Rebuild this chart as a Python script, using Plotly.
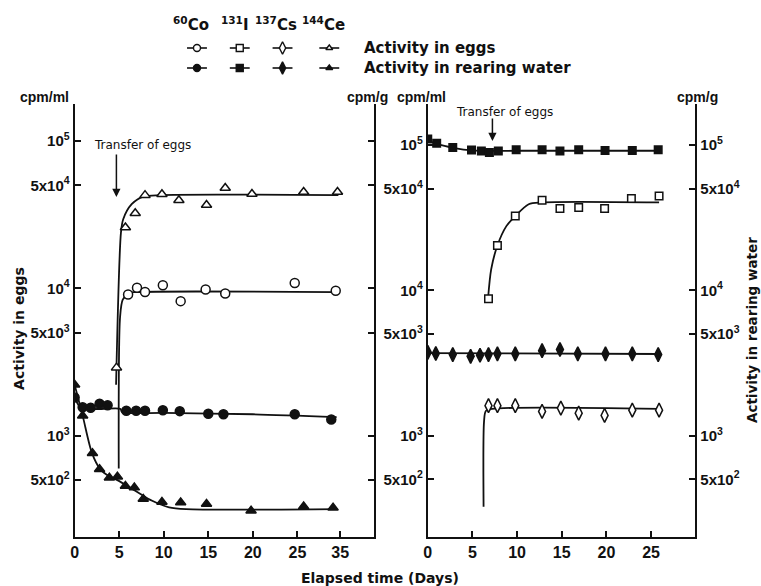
import plotly.graph_objects as go

W, H = 761, 586

# ---------------- data (left panel: 60Co and 144Ce) ----------------
co_egg_d = [6.0, 7.0, 7.9, 9.9, 11.9, 14.7, 16.9, 24.7, 29.3]
co_egg_v = [9100, 10100, 9450, 10500, 8200, 9850, 9250, 10900, 9650]
ce_egg_d = [4.7, 5.7, 6.8, 7.9, 9.8, 11.7, 14.8, 16.9, 19.9, 25.7, 29.5]
ce_egg_v = [2900, 25900, 32400, 43000, 43600, 39700, 36900, 48100, 43800, 45200, 45200]
co_wat_d = [0, 0.9, 1.8, 2.8, 3.7, 5.8, 6.9, 7.9, 9.9, 11.8, 15.0, 16.7, 24.7, 28.8]
co_wat_v = [1820, 1560, 1550, 1650, 1610, 1480, 1480, 1480, 1490, 1470, 1410, 1400, 1400, 1290]
ce_wat_d = [0, 0.9, 2.0, 2.8, 3.9, 4.8, 5.7, 6.7, 7.7, 9.8, 11.9, 14.8, 19.8, 25.7, 29.0]
ce_wat_v = [2220, 1370, 762, 593, 520, 528, 457, 445, 373, 355, 353, 345, 310, 331, 325]

# fitted curves
ce_egg_cd = [4.65, 5.2, 5.45, 6.4, 7.7, 9.7, 29.6]
ce_egg_cv = [2220, 24000, 29500, 37300, 42000, 43000, 43000]
co_egg_cd = [4.95, 5.1, 5.4, 6.1, 7.0, 29.4]
co_egg_cv = [600, 6400, 8400, 9300, 9450, 9450]
co_wat_cd = [0, 0.5, 1.2, 3.0, 5.15, 5.3, 10, 20, 29.4]
co_wat_cv = [1820, 1600, 1530, 1520, 1520, 1450, 1430, 1400, 1340]
ce_wat_cd = [0, 0.9, 1.95, 2.9, 3.9, 4.8, 6.8, 8.7, 10.6, 12.5, 29.4]
ce_wat_cv = [2220, 1370, 762, 590, 530, 500, 424, 362, 327, 318, 318]

# ---------------- data (right panel: 131I and 137Cs) ----------------
i_wat_d = [0, 1.0, 2.8, 4.9, 6.0, 6.9, 7.9, 9.9, 12.8, 14.8, 16.9, 19.85, 22.9, 25.8]
i_wat_v = [110000, 103000, 96400, 92500, 91000, 89000, 91000, 92900, 92900, 91000, 92900, 92000, 92000, 92900]
i_egg_d = [6.8, 7.8, 9.8, 12.8, 14.8, 16.9, 19.8, 22.8, 25.9]
i_egg_v = [8770, 20400, 32500, 41700, 36600, 37200, 36600, 42900, 44700]
cs_wat_d = [0, 0.9, 2.8, 4.8, 5.85, 6.8, 7.8, 9.8, 12.8, 14.8, 16.8, 19.9, 22.9, 25.8]
cs_wat_v = [3750, 3680, 3620, 3520, 3580, 3620, 3660, 3660, 3850, 3920, 3660, 3660, 3660, 3620]
cs_egg_d = [6.8, 7.8, 9.8, 12.8, 14.9, 16.9, 19.8, 22.9, 25.9]
cs_egg_v = [1610, 1610, 1610, 1470, 1550, 1430, 1380, 1500, 1500]

i_wat_cd = [0, 1, 3, 5, 7, 10, 26]
i_wat_cv = [108000, 102000, 95500, 92000, 91200, 91500, 91500]
i_egg_cd = [6.75, 7.1, 7.8, 8.8, 9.8, 11.3, 12.8, 25.9]
i_egg_cv = [8800, 13960, 20400, 27700, 32500, 39200, 40300, 40300]
cs_wat_cd = [0, 26]
cs_wat_cv = [3700, 3650]
cs_egg_cd = [6.25, 6.3, 6.5, 7.2, 26]
cs_egg_cv = [325, 1250, 1480, 1530, 1530]

# ticks
x_left_vals = [0, 5, 10, 15, 20, 25, 29.8]
x_left_text = ["0", "5", "10", "15", "20", "25", "35"]
x_right_vals = [0, 5, 10, 15, 20, 25]
x_right_text = ["0", "5", "10", "15", "20", "25"]
y_vals = [1e5, 5e4, 1e4, 5e3, 1e3, 5e2]
y_text = ["10<sup>5</sup>", "5x10<sup>4</sup>", "10<sup>4</sup>", "5x10<sup>3</sup>",
          "10<sup>3</sup>", "5x10<sup>2</sup>"]

# legend
nuclides = ["<sup>60</sup>Co", "<sup>131</sup>I", "<sup>137</sup>Cs", "<sup>144</sup>Ce"]
legend_rows = ["Activity in eggs", "Activity in rearing water"]

FONT = "Liberation Sans"
TFONT = "DejaVu Sans"
BLACK = "#111111"


def px(x, y):
    return x / W, 1 - y / H


fig = go.Figure()


def curve(xs, ys, xa, ya):
    fig.add_trace(go.Scatter(x=xs, y=ys, mode="lines", xaxis=xa, yaxis=ya,
                             line=dict(color=BLACK, width=1.8, shape="spline", smoothing=0.8),
                             hoverinfo="skip"))


def pts(xs, ys, xa, ya, symbol, size, filled):
    fig.add_trace(go.Scatter(x=xs, y=ys, mode="markers", xaxis=xa, yaxis=ya,
                             marker=dict(symbol=symbol, size=size,
                                         color=BLACK if filled else "white",
                                         line=dict(color=BLACK, width=1.5))))


# left panel
curve(co_wat_cd, co_wat_cv, "x", "y2")
curve(ce_wat_cd, ce_wat_cv, "x", "y2")
curve(co_egg_cd, co_egg_cv, "x", "y")
curve(ce_egg_cd, ce_egg_cv, "x", "y")
pts(co_wat_d, co_wat_v, "x", "y2", "circle", 9, True)
pts(ce_wat_d, ce_wat_v, "x", "y2", "triangle-up", 9, True)
pts(co_egg_d, co_egg_v, "x", "y", "circle", 9, False)
pts(ce_egg_d, ce_egg_v, "x", "y", "triangle-up", 9, False)

# right panel
curve(i_wat_cd, i_wat_cv, "x2", "y4")
curve(cs_wat_cd, cs_wat_cv, "x2", "y4")
curve(i_egg_cd, i_egg_cv, "x2", "y3")
curve(cs_egg_cd, cs_egg_cv, "x2", "y3")
pts(i_wat_d, i_wat_v, "x2", "y4", "square", 7.5, True)
pts(cs_wat_d, cs_wat_v, "x2", "y4", "diamond-tall", 10, True)
pts(i_egg_d, i_egg_v, "x2", "y3", "square", 7.5, False)
pts(cs_egg_d, cs_egg_v, "x2", "y3", "diamond-tall", 10, False)

# legend samples on a hidden pixel axis
col_x = [194, 237, 280, 327]
row_y = [48, 68]
syms = ["circle", "square", "diamond-tall", "triangle-up"]
sizes = [7, 7, 9, 6]
for r, ry in enumerate(row_y):
    for c, cx in enumerate(col_x):
        fig.add_trace(go.Scatter(x=[cx - 10, cx + 10], y=[ry, ry], mode="lines",
                                 xaxis="x3", yaxis="y5",
                                 line=dict(color=BLACK, width=1.6), hoverinfo="skip"))
        fig.add_trace(go.Scatter(x=[cx], y=[ry], mode="markers", xaxis="x3", yaxis="y5",
                                 marker=dict(symbol=syms[c], size=sizes[c],
                                             color="white" if r == 0 else BLACK,
                                             line=dict(color=BLACK, width=1.4)),
                                 hoverinfo="skip"))

tickfont = dict(family=FONT, size=15, color=BLACK, weight="bold")
xtickfont = dict(family=FONT, size=16, color=BLACK, weight="bold")
ydom = [1 - 537 / H, 1 - 104 / H]
common_ax = dict(showline=True, linecolor=BLACK, linewidth=2, showgrid=False,
                 zeroline=False, ticks="inside", ticklen=6, tickwidth=1.6, tickcolor=BLACK)

fig.update_layout(
    width=W, height=H, margin=dict(l=0, r=0, t=0, b=0),
    paper_bgcolor="white", plot_bgcolor="rgba(0,0,0,0)", showlegend=False,
    xaxis=dict(domain=[71 / W, 372 / W], range=[0, 33.6], anchor="y",
               tickvals=x_left_vals, ticktext=x_left_text, tickfont=xtickfont, **common_ax),
    yaxis=dict(domain=ydom, type="log", range=[2.313, 5.252], anchor="x",
               tickvals=y_vals, ticktext=y_text, tickfont=tickfont, **common_ax),
    yaxis2=dict(overlaying="y", side="right", type="log", range=[2.313, 5.252], anchor="x",
                tickvals=y_vals, showticklabels=False, **common_ax),
    xaxis2=dict(domain=[426 / W, 695 / W], range=[0, 29.96], anchor="y3",
                tickvals=x_right_vals, ticktext=x_right_text, tickfont=xtickfont, **common_ax),
    yaxis3=dict(domain=ydom, type="log", range=[2.303, 5.283], anchor="x2",
                tickvals=y_vals, ticktext=y_text, tickfont=tickfont, **common_ax),
    yaxis4=dict(overlaying="y3", side="right", type="log", range=[2.303, 5.283], anchor="x2",
                tickvals=y_vals, ticktext=y_text, tickfont=tickfont, **common_ax),
    xaxis3=dict(domain=[0, 1], range=[0, W], visible=False, anchor="y5", fixedrange=True),
    yaxis5=dict(domain=[0, 1], range=[H, 0], visible=False, anchor="x3", fixedrange=True),
)

ann = []


def text(x, y, s, size=14, xanchor="center", angle=0, weight="bold", family=FONT):
    ax_, ay_ = px(x, y)
    ann.append(dict(x=ax_, y=ay_, xref="paper", yref="paper", text=s, showarrow=False,
                    xanchor=xanchor, yanchor="middle", textangle=angle,
                    font=dict(family=family, size=size, color=BLACK, weight=weight)))


def arrow(x, y0, y1):
    ax_, ay_ = px(x, y1)
    ann.append(dict(x=ax_, y=ay_, xref="paper", yref="paper", text="", showarrow=True,
                    ax=0, ay=-(y1 - y0), arrowhead=2, arrowsize=1.1, arrowwidth=1.5,
                    arrowcolor=BLACK))


text(41, 97, "cpm/ml", 14)
text(365, 97, "cpm/g", 14)
text(420, 97, "cpm/ml", 14)
text(697, 97, "cpm/g", 14)
text(88, 145, "Transfer of eggs", 12, xanchor="left", weight="normal", family=TFONT)
arrow(113, 153, 197)
text(452, 112, "Transfer of eggs", 12, xanchor="left", weight="normal", family=TFONT)
arrow(491, 117, 141)
text(15, 328, "Activity in eggs", 14, angle=-90, family=TFONT)
text(752, 330, "Activity in rearing water", 13.5, angle=-90, family=TFONT)
text(378, 578, "Elapsed time (Days)", 14, family=TFONT)
header_x = [188, 232, 273, 321]
for hx, nm in zip(header_x, nuclides):
    text(hx, 24, nm, 15, family=TFONT)
for ry, lab in zip(row_y, legend_rows):
    text(360, ry, lab, 15, xanchor="left", family=TFONT)

fig.update_layout(annotations=ann)
fig.write_html("out.html")
